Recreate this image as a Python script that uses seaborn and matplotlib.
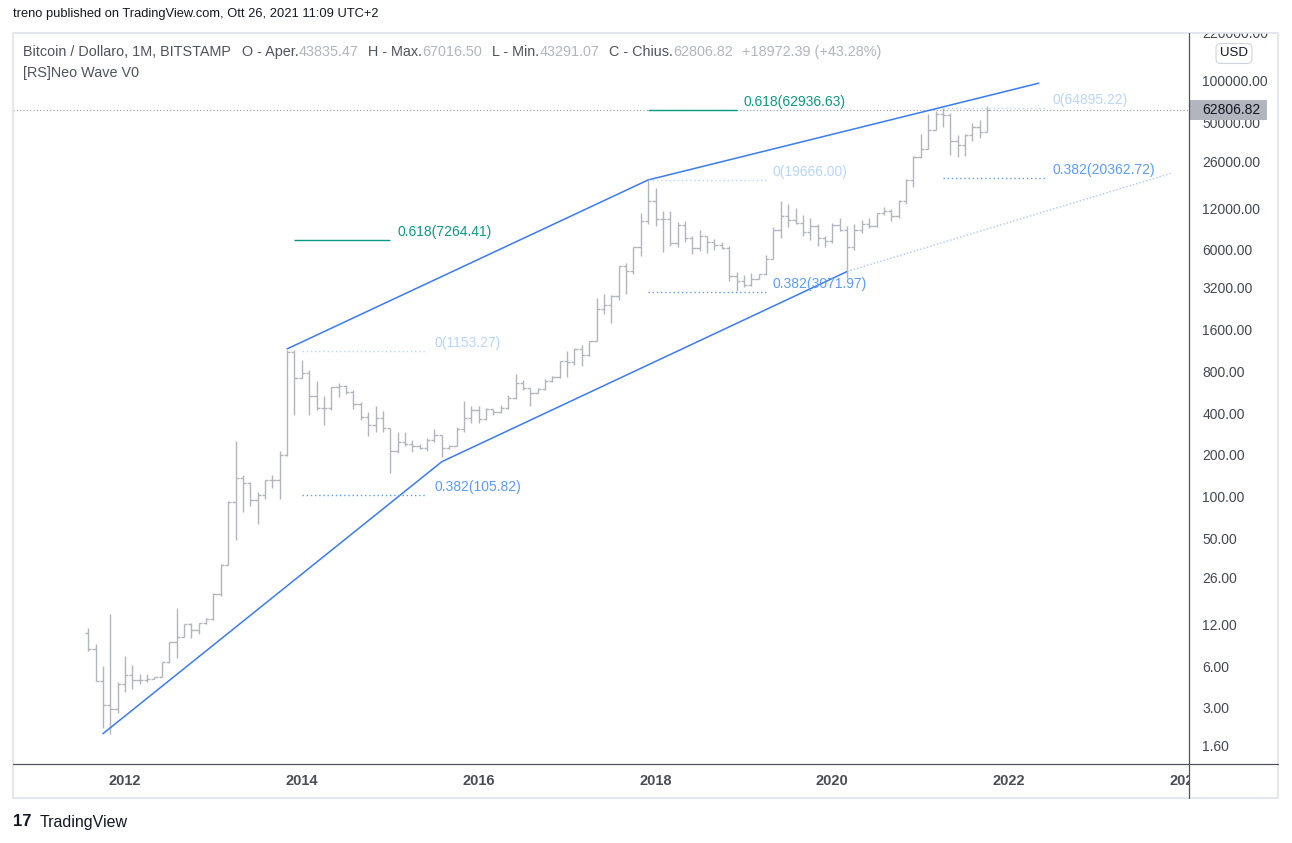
import matplotlib
matplotlib.use("Agg")
import numpy as np
import pandas as pd
import matplotlib.pyplot as plt
import matplotlib.transforms as mtransforms
from matplotlib.lines import Line2D
from matplotlib.patches import Rectangle
import seaborn as sns

# monthly BITSTAMP bars, first bar is 2011-08
start_year, start_mon = 2011, 8
opens = [10.7, 8.1, 4.8, 3.2, 3.0,
         4.6, 5.3, 4.9, 4.9, 4.95, 5.15, 6.6, 9.1, 10.0, 12.3, 11.2, 12.5,
         13.5, 20.4, 33.2, 93, 139, 129, 97, 106, 135, 134, 203, 1130,
         732, 800, 545, 446, 446, 628, 640, 586, 478, 386, 338, 378,
         320, 217, 254, 244, 236, 230, 263, 284, 230, 237, 314, 377,
         430, 369, 437, 416, 448, 531, 673, 624, 575, 609, 698, 742,
         966, 965, 1190, 1080, 1347, 2300, 2480, 2870, 4735, 4340, 6440, 9900,
         13860, 10220, 10330, 6930, 9240, 7490, 6390, 7730, 7010, 6630, 6370, 4020,
         3690, 3430, 3810, 4100, 5270, 8550, 10760, 10080, 9600, 8300, 9150, 7550,
         7195, 9350, 8530, 6420, 8630, 9450, 9140, 11340, 11650, 10780, 13800, 19700,
         28990, 33110, 45200, 58740, 57750, 37300, 35040, 41490, 47130, 43835.47]
highs = [11.6, 8.8, 6.2, 14.7, 4.7,
         7.3, 6.3, 5.4, 5.4, 5.15, 6.6, 9.1, 16.2, 12.4, 12.6, 12.5, 13.6,
         20.7, 33.3, 96, 259, 147, 130, 110, 136, 147, 218, 1163, 1160,
         990, 835, 700, 545, 628, 676, 650, 600, 493, 415, 458, 423,
         320, 300, 300, 261, 247, 269, 315, 285, 243, 326, 502, 465,
         463, 448, 440, 466, 552, 780, 705, 627, 622, 720, 760, 975,
         1150, 1200, 1280, 1350, 2760, 2980, 2920, 4740, 4980, 6470, 11420, 19666,
         17170, 11790, 11700, 9760, 9990, 7750, 8500, 7760, 7400, 7000, 6550, 4240,
         4070, 4200, 4130, 5640, 9070, 13880, 13200, 12330, 10950, 10370, 9500, 7750,
         9580, 10500, 9190, 9480, 10070, 10390, 11430, 12480, 12070, 14100, 19860, 29300,
         41950, 58350, 61780, 64895.22, 59500, 41330, 42450, 50500, 52920, 67016.50]
lows = [7.9, 4.8, 2.2, 2.0, 2.8,
        4.0, 4.2, 4.6, 4.75, 4.95, 5.15, 6.5, 7.0, 10.0, 9.8, 10.5, 12.3,
        13.3, 19.6, 33.0, 50, 79, 88, 65, 99, 118, 98, 200, 400,
        730, 400, 431, 336, 431, 537, 567, 436, 363, 279, 300, 300,
        152, 212, 236, 215, 227, 218, 253, 199, 225, 236, 300, 350,
        350, 365, 400, 412, 437, 521, 600, 465, 573, 606, 690, 740,
        750, 915, 892, 1061, 1347, 2120, 1830, 2680, 2970, 4110, 5520, 9400,
        9200, 5920, 6600, 6430, 7030, 5750, 6080, 5880, 6100, 6200, 3650, 3122,
        3350, 3390, 3800, 4050, 5250, 7450, 9070, 9420, 7710, 7300, 6520, 6430,
        6870, 8450, 3850, 6150, 8100, 8900, 8950, 10950, 9880, 10540, 13200, 17600,
        28130, 33050, 45020, 47000, 30000, 28800, 29300, 37330, 39600, 43291.07]
closes = [8.1, 4.8, 3.2, 3.0, 4.6,
          5.3, 4.9, 4.9, 4.95, 5.15, 6.6, 9.1, 10.0, 12.3, 11.2, 12.5, 13.5,
          20.4, 33.2, 93, 139, 129, 97, 106, 135, 134, 203, 1130, 732,
          800, 545, 446, 446, 628, 640, 586, 478, 386, 338, 378, 320,
          217, 254, 244, 236, 230, 263, 284, 230, 237, 314, 377, 430,
          369, 437, 416, 448, 531, 673, 624, 575, 609, 698, 742, 966,
          965, 1190, 1080, 1347, 2300, 2480, 2870, 4735, 4340, 6440, 9900, 13860,
          10220, 10330, 6930, 9240, 7490, 6390, 7730, 7010, 6630, 6370, 4020, 3690,
          3430, 3810, 4100, 5270, 8550, 10760, 10080, 9600, 8300, 9150, 7550, 7195,
          9350, 8530, 6420, 8630, 9450, 9140, 11340, 11650, 10780, 13800, 19700, 28990,
          33110, 45200, 58740, 57750, 37300, 35040, 41490, 47130, 43835.47, 62806.82]

year_ticks = ["2012-01", "2014-01", "2016-01", "2018-01", "2020-01", "2022-01", "2024-01"]
year_labels = ["2012", "2014", "2016", "2018", "2020", "2022", "2024"]
price_ticks = [220000, 100000, 50000, 26000, 12000, 6000, 3200, 1600, 800,
               400, 200, 100, 50, 26, 12, 6, 3, 1.6]

# Neo Wave lines
lower_months = ["2011-10", "2015-08", "2020-03"]
lower_prices = [2.0, 183, 4300]
upper_months = ["2013-11", "2017-12", "2022-05"]
upper_prices = [1190, 19666, 98000]
proj_months = ["2020-03", "2023-11"]
proj_prices = [4300, 22000]

# fib levels
fib_ratio = ["0", "0.382", "0.618", "0", "0.382", "0.618", "0", "0.382"]
fib_price = [1153.27, 105.82, 7264.41, 19666.00, 3071.97, 62936.63, 64895.22, 20362.72]
fib_start = ["2014-01", "2014-01", "2013-12", "2017-12", "2017-12", "2017-12", "2021-04", "2021-04"]
fib_end = ["2015-06", "2015-06", "2015-01", "2019-04", "2019-04", "2018-12", "2022-06", "2022-06"]


def month_index(m):
    y, mo = m.split("-")
    return (int(y) - start_year) * 12 + int(mo) - start_mon


W, H = 1292, 843
sns.set_theme(style="white")
plt.rcParams["font.family"] = ["Liberation Sans", "DejaVu Sans"]

fig = plt.figure(figsize=(W / 100, H / 100), dpi=100)
fig.patch.set_facecolor("white")


def fbox(x0, y0, x1, y1):
    return [x0 / W, 1 - y1 / H, (x1 - x0) / W, (y1 - y0) / H]


ax = fig.add_axes(fbox(13, 33, 1189, 764))
pax = fig.add_axes(fbox(1189, 33, 1278, 764), sharey=ax)
tax = fig.add_axes(fbox(13, 764, 1189, 798), sharex=ax)

ax.set_yscale("log")
ax.set_xlim(-10.2, 149.4)
ax.set_ylim(1.21, 225500)
for a in (ax, pax, tax):
    a.set_facecolor("none")
    a.tick_params(which="both", length=0, labelleft=False, labelbottom=False)
    for s in a.spines.values():
        s.set_visible(False)

bar_col = "#b2b5be"
idx = np.arange(len(closes))
ax.vlines(idx, lows, highs, color=bar_col, lw=1.0)
ax.hlines(opens, idx - 0.45, idx, color=bar_col, lw=1.0)
ax.hlines(closes, idx, idx + 0.45, color=bar_col, lw=1.0)

# last price line
ax.axhline(closes[-1], color="#9598a1", lw=0.8, ls=(0, (1, 2)))

wave_blue = "#3a7bf0"
lower_df = pd.DataFrame({"x": [month_index(m) for m in lower_months], "p": lower_prices})
upper_df = pd.DataFrame({"x": [month_index(m) for m in upper_months], "p": upper_prices})
proj_df = pd.DataFrame({"x": [month_index(m) for m in proj_months], "p": proj_prices})
sns.lineplot(data=lower_df, x="x", y="p", ax=ax, color=wave_blue, lw=1.1, estimator=None, sort=False)
sns.lineplot(data=upper_df, x="x", y="p", ax=ax, color=wave_blue, lw=1.1, estimator=None, sort=False)
sns.lineplot(data=proj_df, x="x", y="p", ax=ax, color="#a9c8f5", lw=1.0, ls=(0, (1, 1.5)),
             estimator=None, sort=False)
ax.set_xlabel("")
ax.set_ylabel("")

fib_colors = {"0": "#b8d6fa", "0.382": "#5b9cf6", "0.618": "#089981"}
for r, p, s, e in zip(fib_ratio, fib_price, fib_start, fib_end):
    c = fib_colors[r]
    ls = "-" if r == "0.618" else (0, (1, 2))
    ax.hlines(p, month_index(s), month_index(e), color=c, lw=1.0, linestyles=[ls])
    ax.annotate(f"{r}({p:.2f})", xy=(month_index(e), p), xytext=(5, 0.5),
                textcoords="offset points", color=c, fontsize=10, va="bottom", ha="left")

# time scale
for m, lab in zip(year_ticks, year_labels):
    tax.text(month_index(m), 0.5, lab, transform=tax.get_xaxis_transform(), ha="center",
             va="center", fontsize=10.5, fontweight="bold", color="#4a4d57", clip_on=True)

# price scale
ptrans = mtransforms.blended_transform_factory(pax.transAxes, pax.transData)
for v in price_ticks:
    pax.text(0.15, v, f"{v:.2f}", transform=ptrans, va="center", ha="left",
             fontsize=10, color="#434651", clip_on=True)
last = closes[-1]
pax.add_patch(Rectangle((0, last / 1.19), 0.88, last * 1.19 - last / 1.19, transform=ptrans,
                        fc="#b2b5be", ec="none", zorder=4))
pax.text(0.15, last, f"{last:.2f}", transform=ptrans, va="center", ha="left",
         fontsize=10, color="#131722", zorder=5)
fig.text(1234 / W, 1 - 53.5 / H, "USD", ha="center", va="center", fontsize=9.5, color="#131722",
         bbox=dict(boxstyle="round,pad=0.3,rounding_size=0.35", fc="white", ec="#d1d4dc", lw=0.8))

# frame and axis lines
fig.add_artist(Rectangle((13 / W, 1 - 798 / H), (1278 - 13) / W, (798 - 33) / H,
                         transform=fig.transFigure, fill=False, ec="#e0e3eb", lw=1.2))
fig.add_artist(Line2D([13 / W, 1278 / W], [1 - 764 / H] * 2, transform=fig.transFigure,
                      color="#50535e", lw=0.9))
fig.add_artist(Line2D([1189 / W] * 2, [1 - 33 / H, 1 - 798 / H], transform=fig.transFigure,
                      color="#50535e", lw=0.9))

# header and legend
fig.text(13 / W, 1 - 14 / H, "treno published on TradingView.com, Ott 26, 2021 11:09 UTC+2",
         ha="left", va="center", fontsize=9.3, color="#131722")

renderer = fig.canvas.get_renderer()
dark, light = "#50535e", "#b2b5be"
pieces = [("Bitcoin / Dollaro, 1M, BITSTAMP", dark, 11), ("O - Aper.", dark, 0), ("43835.47", light, 10),
          ("H - Max.", dark, 0), ("67016.50", light, 10), ("L - Min.", dark, 0), ("43291.07", light, 10),
          ("C - Chius.", dark, 0), ("62806.82", light, 9), ("+18972.39 (+43.28%)", light, 0)]
x = 23
for s, c, gap in pieces:
    t = fig.text(x / W, 1 - 52 / H, s, ha="left", va="center", fontsize=10.4, color=c)
    x += t.get_window_extent(renderer=renderer).width + gap
fig.text(23 / W, 1 - 73 / H, "[RS]Neo Wave V0", ha="left", va="center", fontsize=10.4, color=dark)

# footer logo
fig.text(13 / W, 1 - 822 / H, "17", ha="left", va="center", fontsize=12, fontweight="heavy",
         color="#131722")
fig.text(40 / W, 1 - 822 / H, "TradingView", ha="left", va="center", fontsize=11.5,
         color="#131722")

fig.savefig("out.png", dpi=100, facecolor="white")
